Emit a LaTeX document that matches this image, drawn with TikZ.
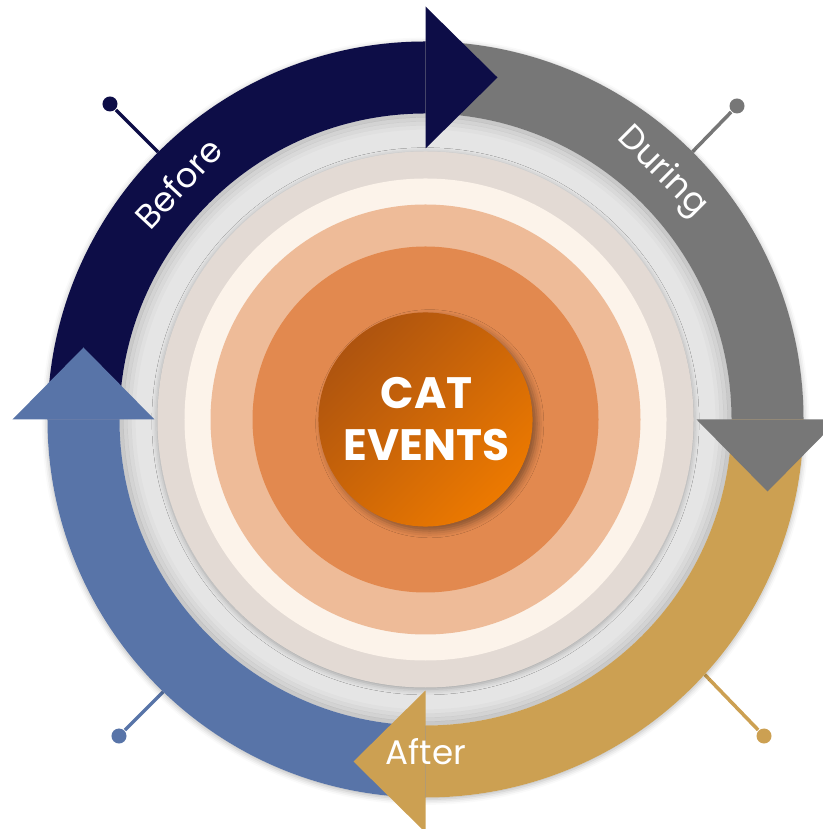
\documentclass[tikz,border=0pt]{standalone}
\usepackage{fontspec}
\setmainfont{Poppins}
\usetikzlibrary{shadows.blur}
\definecolor{navyc}{HTML}{0D0D47}
\definecolor{grayc}{HTML}{777777}
\definecolor{goldc}{HTML}{CCA052}
\definecolor{bluec}{HTML}{5874A8}
\definecolor{diskc}{HTML}{E5E5E5}
\definecolor{beigec}{HTML}{E3DAD4}
\definecolor{creamc}{HTML}{FCF3EA}
\definecolor{peachc}{HTML}{EEBB98}
\definecolor{orangec}{HTML}{E2894F}
\definecolor{catdark}{HTML}{AE540F}
\definecolor{catlight}{HTML}{EC7900}

\begin{document}
\begin{tikzpicture}[
  soft/.style={blur shadow={shadow xshift=0pt,shadow yshift=-0.5pt,
    shadow blur radius=1.6pt,shadow opacity=30}},
  pin/.style={line width=1pt},
  pindot/.style={circle,inner sep=0pt,minimum size=0.15cm},
  phase/.style={text=white,font=\fontsize{9.7}{11}\selectfont}]
\begin{scope}[scale=0.01]
\useasboundingbox (-425.5,-409.5) rectangle (397.5,419.5);
\clip (-425.5,-409.5) rectangle (397.5,419.5);
% pins
\node[pindot,fill=navyc] (pinbefore) at (-315.5,315.5) {};
\node[pindot,fill=grayc] (pinduring) at (311.5,313.5) {};
\node[pindot,fill=goldc] (pinafter) at (338.5,-316.5) {};
\node[pindot,fill=bluec] (pinback) at (-306.5,-316.5) {};
\coordinate (bandbefore) at (-245,245);
\coordinate (bandduring) at (245,245);
\coordinate (bandafter) at (255,-230);
\coordinate (bandback) at (-240,-250);
\draw[pin,navyc] (pinbefore) -- (bandbefore);
\draw[pin,grayc] (pinduring) -- (bandduring);
\draw[pin,goldc] (pinafter) -- (bandafter);
\draw[pin,bluec] (pinback) -- (bandback);
% discs
\path[fill=diskc,soft] (0,0) circle (378);
\foreach \r/\o in {304/0.12,300/0.08,296/0.05,292/0.02}
  \draw[black,opacity=\o,line width=1.2pt] (0,0) circle (\r);
\path[fill=beigec,soft] (0,0) circle (268);
\path[fill=creamc] (0,0) circle (241);
\path[fill=peachc] (0,0) circle (215);
\path[fill=orangec] (0,0) circle (173);
% bands
\path[fill=navyc]%
(180:378) arc[start angle=180,end angle=90,radius=378]%
-- (90:306) arc[start angle=90,end angle=180,radius=306] -- cycle;
\path[fill=grayc]%
(90:378) arc[start angle=90,end angle=0,radius=378]%
-- (0:306) arc[start angle=0,end angle=90,radius=306] -- cycle;
\path[fill=goldc]%
(0:378) arc[start angle=0,end angle=-90,radius=378]%
-- (-90:306) arc[start angle=-90,end angle=0,radius=306] -- cycle;
\path[fill=bluec]%
(-90:378) arc[start angle=-90,end angle=-180,radius=378]%
-- (-180:306) arc[start angle=-180,end angle=-90,radius=306] -- cycle;
% heads
\path[fill=navyc] (0,271) -- (72,342) -- (0,413) -- cycle;
\path[fill=grayc] (271,0) -- (342,-72) -- (413,0) -- cycle;
\path[fill=goldc] (0,-271) -- (-72,-342) -- (0,-413) -- cycle;
\path[fill=bluec] (-271,0) -- (-342,72) -- (-413,0) -- cycle;
% centre
\node[circle,minimum size=2.14cm,inner sep=0pt,top color=catdark,
  bottom color=catlight,shading angle=45,
  blur shadow={shadow xshift=1.2pt,shadow yshift=-1.2pt,
    shadow blur radius=2pt,shadow opacity=40}] (cat) at (0,0) {};
\node[text=white,align=center,
  font=\bfseries\fontsize{12.5}{14.8}\selectfont] (catlabel) at (1,0) {CAT\\EVENTS};
\node[phase,rotate=47] (before) at (-247.5,236.5) {Before};
\node[phase,rotate=-45] (during) at (236.5,247.5) {During};
\node[phase] (after) at (0.5,-332.5) {After};
\end{scope}
\end{tikzpicture}
\end{document}
